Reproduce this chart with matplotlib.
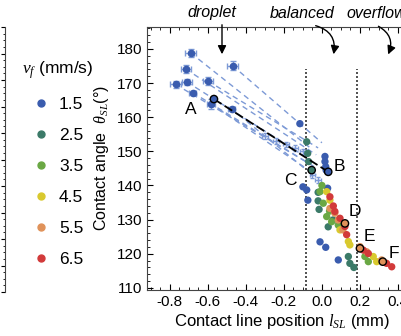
import matplotlib
matplotlib.use("Agg")
import matplotlib.pyplot as plt
from matplotlib.lines import Line2D
from matplotlib.patches import FancyArrowPatch
from matplotlib.ticker import MultipleLocator

plt.rcParams['font.family'] = ['Liberation Sans', 'DejaVu Sans']
plt.rcParams['mathtext.fontset'] = 'custom'
plt.rcParams['mathtext.it'] = 'Liberation Serif:italic'
plt.rcParams['mathtext.rm'] = 'Liberation Sans'

# -------------------------------
# Data
# -------------------------------
speeds = ['1.5', '2.5', '3.5', '4.5', '5.5', '6.5']
colors = ['#3a5cae', '#3b7a68', '#6aa844', '#d9c92e', '#e0925a', '#d23a3a']

# droplet regime: blue points with error bars
drop_x = [-0.69, -0.716, -0.77, -0.71, -0.68, -0.60, -0.47, -0.584, -0.475]
drop_y = [178.8, 174.1, 169.6, 170.3, 167.2, 170.6, 175.1, 163.9, 162.4]
drop_xerr = [0.03, 0.025, 0.03, 0.025, 0.02, 0.025, 0.03, 0.02, 0.02]
drop_yerr = [1.2, 1.2, 1.0, 1.0, 0.6, 1.2, 1.4, 1.4, 0.6]

# where each droplet run ends (dashed guide lines)
end_x = [-0.05, -0.03, -0.07, -0.06, -0.04, -0.02, 0.0, -0.03, -0.08]
end_y = [150.5, 149.0, 146.5, 147.5, 145.5, 151.0, 152.5, 143.0, 144.5]

# small intermediate blue points along the runs
mid_x = [-0.30, -0.24, -0.19, -0.14, -0.10, -0.05, -0.02]
mid_y = [154.5, 153.0, 152.0, 151.0, 150.0, 143.0, 141.6]

# balanced / overflow regime, by speed
pts_x = {
    '1.5': [-0.116, 0.016, 0.016, 0.02, 0.022, 0.03, -0.10, -0.08, -0.074, -0.01, 0.02, 0.086],
    '2.5': [-0.08, -0.075, -0.07, -0.02, -0.02, -0.015, 0.033, 0.058, 0.139, 0.147, 0.168],
    '3.5': [-0.01, 0.007, 0.025, 0.051, 0.086, 0.226, 0.244, 0.0, 0.04],
    '4.5': [0.025, 0.042, 0.095, 0.139, 0.147, 0.27, 0.288],
    '5.5': [0.042, 0.068, 0.086, 0.2, 0.235, 0.314, 0.11],
    '6.5': [0.042, 0.068, 0.095, 0.121, 0.13, 0.217, 0.244, 0.34, 0.367, 0.06],
}
pts_y = {
    '1.5': [158.1, 148.5, 147.0, 145.5, 144.5, 139.2, 139.6, 138.7, 135.7, 123.5, 121.9, 118.2],
    '2.5': [152.8, 149.4, 147.0, 138.0, 135.5, 133.0, 127.9, 129.9, 119.2, 117.2, 116.0],
    '3.5': [138.2, 134.8, 130.9, 129.4, 128.4, 119.2, 117.7, 140.0, 132.5],
    '4.5': [138.2, 135.7, 127.0, 123.6, 122.6, 119.2, 117.7],
    '5.5': [133.3, 131.9, 129.9, 122.1, 120.6, 118.2, 127.0],
    '6.5': [136.7, 132.4, 130.4, 128.0, 125.6, 121.1, 120.1, 117.2, 116.2, 134.0],
}

# labelled states A-F
state_names = ['A', 'B', 'C', 'D', 'E', 'F']
state_x = [-0.568, 0.033, -0.054, 0.121, 0.20, 0.32]
state_y = [165.3, 144.0, 144.5, 128.9, 121.6, 117.7]
state_fill = ['#3a5cae', '#3a5cae', '#3b7a68', '#e0925a', '#e0925a', '#e0925a']
state_dx = [-0.09, 0.03, -0.08, 0.02, 0.02, 0.03]
state_dy = [-3.0, 1.5, -3.0, 3.5, 3.5, 2.5]

regime_x = [-0.085, 0.185]

# -------------------------------
# Figure
# -------------------------------
fig = plt.figure(figsize=(4.02, 3.36), dpi=100)
ax = fig.add_axes([147 / 402, 1 - 290 / 336, 270 / 402, 263 / 336])

for i in range(len(drop_x)):
    ax.plot([drop_x[i], end_x[i]], [drop_y[i], end_y[i]], ls=(0, (4, 3)),
            color='#7d9ad6', lw=1.0, zorder=1)

ax.errorbar(drop_x, drop_y, xerr=drop_xerr, yerr=drop_yerr, fmt='o', ms=4.5,
            color=colors[0], ecolor='#7d9ad6', elinewidth=1, capsize=2, zorder=3)
ax.errorbar(mid_x, mid_y, xerr=0.015, yerr=0.8, fmt='+', ms=3,
            color='#7d9ad6', elinewidth=0.8, capsize=1.5, zorder=2)

ax.plot([state_x[0], state_x[1]], [state_y[0], state_y[1]], ls=(0, (5, 2)),
        color='black', lw=1.3, zorder=4)

for s, c in zip(speeds, colors):
    ax.scatter(pts_x[s], pts_y[s], s=28, color=c, edgecolors='none', zorder=3)

ax.scatter(state_x, state_y, s=28, c=state_fill, edgecolors='black',
           linewidths=1.0, zorder=5)
for i in range(len(state_names)):
    ax.text(state_x[i] + state_dx[i], state_y[i] + state_dy[i], state_names[i],
            fontsize=12.5, ha='left' if state_dx[i] > 0 else 'right', va='center', zorder=6)

for xv in regime_x:
    ax.axvline(xv, ls=(0, (1.2, 1.2)), color='#333333', lw=1.2, ymax=0.84, zorder=0)

ax.set_xlim(-0.92, 0.5)
ax.set_ylim(109.4, 186.4)
ax.xaxis.set_major_locator(MultipleLocator(0.2))
ax.xaxis.set_minor_locator(MultipleLocator(0.05))
ax.yaxis.set_major_locator(MultipleLocator(10))
ax.yaxis.set_minor_locator(MultipleLocator(2))
ax.tick_params(which='both', direction='in', top=True, right=True, labelsize=11)
ax.tick_params(which='major', length=4)
ax.tick_params(which='minor', length=2)
ax.set_xticks([-0.8, -0.6, -0.4, -0.2, 0.0, 0.2, 0.4])
ax.set_xticklabels(['-0.8', '-0.6', '-0.4', '-0.2', '0.0', '0.2', '0.4'])
for sp in ax.spines.values():
    sp.set_color('#444444')

ax.set_xlabel(r'Contact line position $l_{SL}$ (mm)', fontsize=12, labelpad=2)
ax.set_ylabel(r'Contact angle  $\theta_{SL}$(°)', fontsize=11.5, labelpad=4)

# partial neighbouring panel on the left edge
ax0 = fig.add_axes([-0.5, 1 - 292 / 336, 0.5 + 5 / 402, 265 / 336])
ax0.set_ylim(0, 10)
ax0.yaxis.set_major_locator(MultipleLocator(1))
ax0.yaxis.set_minor_locator(MultipleLocator(0.25))
ax0.tick_params(which='both', direction='in', left=False, right=True,
                labelleft=False, bottom=False, labelbottom=False)
ax0.tick_params(which='major', length=3)
ax0.tick_params(which='minor', length=1.5)
for sp in ['left', 'top', 'bottom']:
    ax0.spines[sp].set_visible(False)
ax0.spines['right'].set_color('#444444')

# legend
handles = [Line2D([], [], marker='o', ls='none', ms=5, color=c) for c in colors]
fig.legend(handles, speeds, title=r'$v_f$ (mm/s)', loc='upper left',
           bbox_to_anchor=(15 / 402, 1 - 52 / 336), frameon=False, fontsize=12.5,
           title_fontsize=12.5, labelspacing=0.92, handletextpad=0.55,
           handlelength=1.0, borderaxespad=0)

# regime labels with arrows
fig.text(212 / 402, 1 - 13 / 336, 'droplet', style='italic', fontsize=11.5,
         ha='center', va='center')
fig.text(302 / 402, 1 - 13 / 336, 'balanced', style='italic', fontsize=11.5,
         ha='center', va='center')
fig.text(376 / 402, 1 - 13 / 336, 'overflow', style='italic', fontsize=11.5,
         ha='center', va='center')

arrows = [((222, 22), (222, 57), 'arc3,rad=0'),
          ((313, 25), (333, 57), 'arc3,rad=-0.5'),
          ((376, 25), (387, 57), 'arc3,rad=-0.5')]
for (x0, y0), (x1, y1), cs in arrows:
    fig.patches.append(FancyArrowPatch((x0 / 402, 1 - y0 / 336), (x1 / 402, 1 - y1 / 336),
                                       transform=fig.transFigure, connectionstyle=cs,
                                       arrowstyle='-|>,head_length=5,head_width=2.5',
                                       color='black', lw=1.0))

fig.savefig('out.png', dpi=100)
